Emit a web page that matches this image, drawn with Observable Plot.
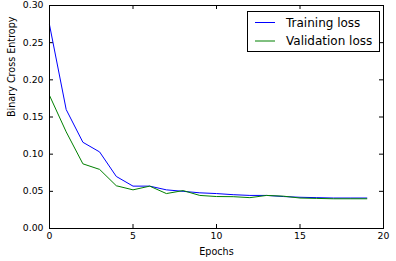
<!DOCTYPE html>
<html>
<head>
<meta charset="utf-8">
<script src="https://cdn.jsdelivr.net/npm/d3@7"></script>
<script src="https://cdn.jsdelivr.net/npm/@observablehq/plot@0.6"></script>
<style>
  html, body { margin: 0; padding: 0; background: white; }
  #wrap { position: relative; width: 396px; height: 261px; overflow: hidden; }
  #legend { position: absolute; left: 246.5px; top: 10.5px; width: 131px; height: 39px; border: 1px solid black; background: white; }
</style>
</head>
<body>
<div id="wrap"><div id="chart"></div><div id="legend"></div></div>
<script>
const epochs = d3.range(0, 20);
const training = [0.274, 0.160, 0.116, 0.103, 0.070, 0.057, 0.057, 0.052, 0.050, 0.048, 0.047, 0.0455, 0.0445, 0.0445, 0.043, 0.042, 0.0415, 0.041, 0.041, 0.041];
const validation = [0.179, 0.130, 0.087, 0.0795, 0.0575, 0.052, 0.057, 0.047, 0.051, 0.0445, 0.043, 0.0428, 0.0415, 0.0445, 0.0435, 0.041, 0.0405, 0.040, 0.040, 0.040];
const seriesNames = ["Training loss", "Validation loss"];
const seriesColors = ["#0000ff", "#008000"];
const xTicks = [0, 5, 10, 15, 20];
const yTicks = [0, 0.05, 0.10, 0.15, 0.20, 0.25, 0.30];
const titleText = "Training vs Validation";

const rows = epochs.map((e, i) => ({epoch: e, training: training[i], validation: validation[i]}));

const W = 396, H = 261, mT = 5, mR = 13, mB = 33, mL = 49;
const pw = W - mL - mR, ph = H - mT - mB, tk = 4;

const chart = Plot.plot({
  width: W, height: H,
  marginTop: mT, marginRight: mR, marginBottom: mB, marginLeft: mL,
  style: {fontFamily: "DejaVu Sans", fontSize: "9.3px", background: "white", color: "#000"},
  x: {domain: [0, 20]},
  y: {domain: [0, 0.30]},
  marks: [
    Plot.axisY(yTicks, {tickSize: 0, tickPadding: 6, tickFormat: d => d.toFixed(2), label: null, fill: "#000"}),
    Plot.axisX(xTicks, {tickSize: 0, tickPadding: 4, tickFormat: d => String(d), label: null, fill: "#000"}),
    Plot.text(["Binary Cross Entropy"], {frameAnchor: "left", dx: -37.5, rotate: -90, fontSize: 9.6, fill: "#000"}),
    Plot.text(["Epochs"], {frameAnchor: "bottom", dy: 26, fontSize: 9.6, fill: "#000"}),
    Plot.tickY(yTicks, {y: d => d, insetRight: pw - tk, stroke: "#000"}),
    Plot.tickY(yTicks, {y: d => d, insetLeft: pw - tk, stroke: "#000"}),
    Plot.tickX(xTicks, {x: d => d, insetTop: ph - tk, stroke: "#000"}),
    Plot.tickX(xTicks, {x: d => d, insetBottom: ph - tk, stroke: "#000"}),
    Plot.line(rows, {x: "epoch", y: "training", stroke: seriesColors[0], strokeWidth: 1}),
    Plot.line(rows, {x: "epoch", y: "validation", stroke: seriesColors[1], strokeWidth: 1}),
    Plot.frame({stroke: "#000", strokeWidth: 1}),
    Plot.text([titleText], {frameAnchor: "top", dy: -mT - 2.5, lineAnchor: "bottom", fontSize: 11, fill: "#000"})
  ]
});
document.getElementById("chart").appendChild(chart);

// legend
const leg = d3.select("#legend").append("svg").attr("width", 131).attr("height", 39)
  .style("display", "block").style("font-family", "DejaVu Sans").style("font-size", "12px");
seriesNames.forEach((name, i) => {
  const cy = 10.5 + i * 18.5;
  leg.append("line").attr("x1", 7).attr("x2", 27).attr("y1", cy).attr("y2", cy)
    .attr("stroke", seriesColors[i]).attr("stroke-width", 1);
  leg.append("text").attr("x", 38).attr("y", cy).attr("dy", "0.35em").attr("fill", "#000").text(name);
});
</script>
</body>
</html>
